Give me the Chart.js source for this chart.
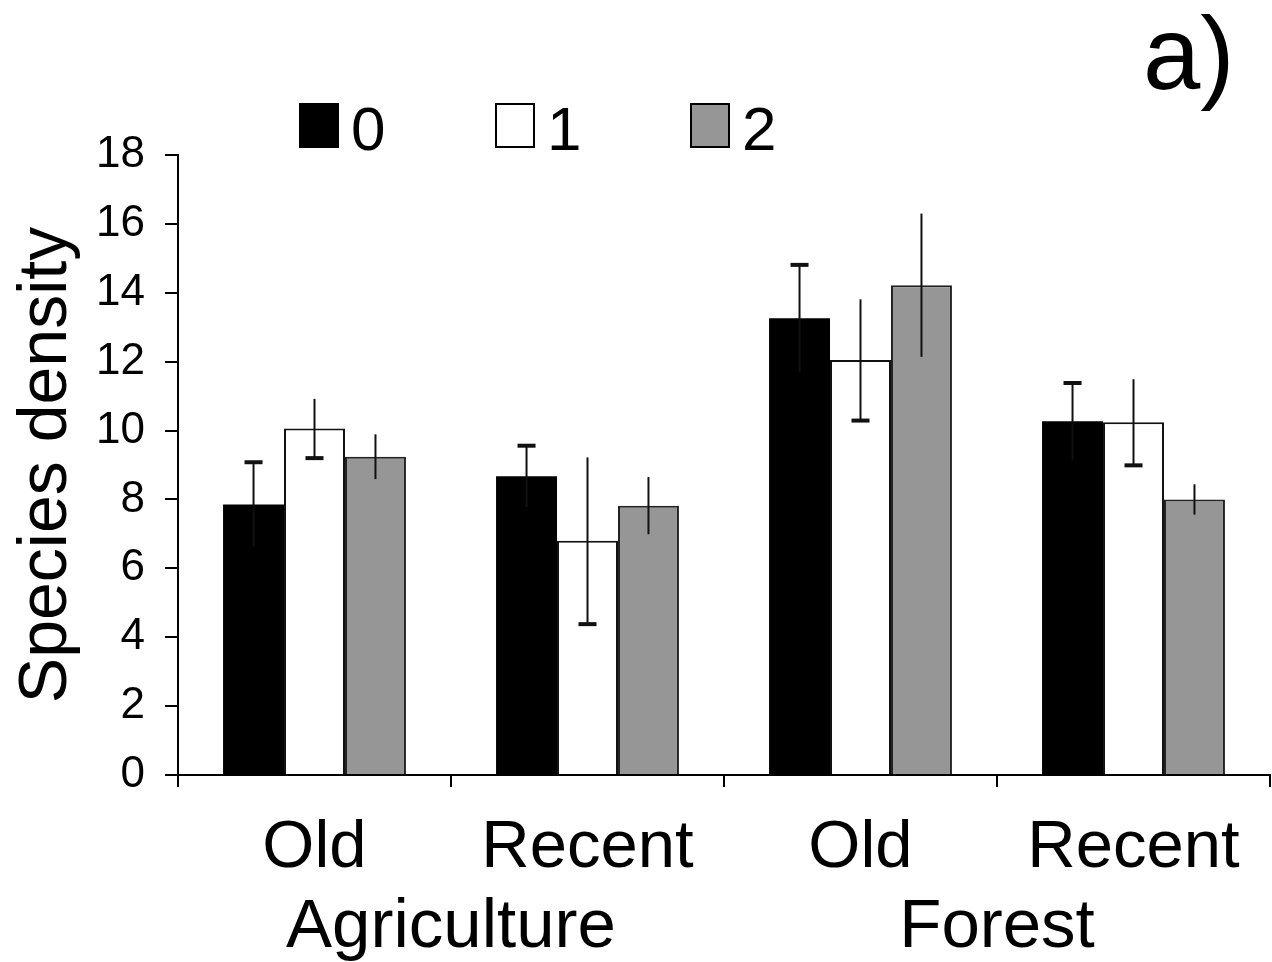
<!DOCTYPE html>
<html>
<head>
<meta charset="utf-8">
<script src="https://cdn.jsdelivr.net/npm/chart.js@4.4.0/dist/chart.umd.min.js"></script>
<style>
  body { margin: 0; background: #fff; }
  #wrap { width: 1272px; height: 962px; }
</style>
</head>
<body>
<div id="wrap"><canvas id="myChart"></canvas></div>
<script>
// data
var categories = ['Old', 'Recent', 'Old', 'Recent'];
var groups = ['Agriculture', 'Forest'];
var seriesNames = ['0', '1', '2'];
var means0 = [7.85, 8.67, 13.26, 10.27];
var means1 = [10.06, 6.8, 12.05, 10.24];
var means2 = [9.24, 7.82, 14.22, 8.0];
var errors0 = [1.23, 0.89, 1.55, 1.11];
var errors1 = [0.86, 2.42, 1.76, 1.25];
var errors2 = [0.65, 0.83, 2.08, 0.44];
var yMin = 0, yMax = 18, yStep = 2;
var panelLabel = 'a)';

var FONT = "'Liberation Sans', Arial, sans-serif";
var NARROW = "'Liberation Sans Narrow', 'Arial Narrow', 'Liberation Sans', sans-serif";

// error bars drawn on top of the bars
var errorBarPlugin = {
    id: 'errorBars',
    afterDatasetsDraw: function (chart) {
        var ctx = chart.ctx;
        var yScale = chart.scales.y;
        chart.data.datasets.forEach(function (ds, i) {
            var meta = chart.getDatasetMeta(i);
            meta.data.forEach(function (bar, j) {
                var m = ds.data[j], e = ds.errors[j];
                var top = yScale.getPixelForValue(m + e);
                var bot = yScale.getPixelForValue(m - e);
                ctx.save();
                ctx.strokeStyle = '#111';
                ctx.lineWidth = 2;
                ctx.beginPath();
                ctx.moveTo(bar.x, top);
                ctx.lineTo(bar.x, bot);
                ctx.stroke();
                ctx.lineWidth = 4;
                if (ds.capTop) {
                    ctx.beginPath();
                    ctx.moveTo(bar.x - 9, top);
                    ctx.lineTo(bar.x + 9, top);
                    ctx.stroke();
                }
                if (ds.capBottom) {
                    ctx.beginPath();
                    ctx.moveTo(bar.x - 9, bot);
                    ctx.lineTo(bar.x + 9, bot);
                    ctx.stroke();
                }
                ctx.restore();
            });
        });
    }
};

// group labels, legend and panel letter
var extrasPlugin = {
    id: 'extras',
    afterDraw: function (chart) {
        var ctx = chart.ctx;
        var x = chart.scales.x;
        ctx.save();
        ctx.fillStyle = '#000';
        ctx.textAlign = 'center';
        ctx.textBaseline = 'alphabetic';
        ctx.font = '69px ' + FONT;
        groups.forEach(function (g, k) {
            var cx = (x.getPixelForValue(k * 2) + x.getPixelForValue(k * 2 + 1)) / 2;
            ctx.fillText(g, cx, 947);
        });

        // legend
        var legendX = [300, 496, 691];
        chart.data.datasets.forEach(function (ds, i) {
            var bx = legendX[i];
            ctx.fillStyle = ds.backgroundColor;
            ctx.fillRect(bx, 104, 38, 43);
            ctx.strokeStyle = '#000';
            ctx.lineWidth = 2;
            ctx.strokeRect(bx, 104, 38, 43);
            ctx.fillStyle = '#000';
            ctx.textAlign = 'left';
            ctx.font = '62px ' + FONT;
            ctx.fillText(ds.label, bx + 51, 150);
        });

        ctx.font = '103px ' + FONT;
        ctx.textAlign = 'left';
        ctx.fillText(panelLabel, 1143, 89);
        ctx.restore();
    }
};

var ctx = document.getElementById('myChart').getContext('2d');
var myChart = new Chart(ctx, {
    type: 'bar',
    data: {
        labels: categories,
        datasets: [{
            label: seriesNames[0],
            data: means0,
            errors: errors0,
            capTop: true,
            capBottom: false,
            backgroundColor: '#000000',
            borderColor: '#000000',
            borderWidth: 0
        }, {
            label: seriesNames[1],
            data: means1,
            errors: errors1,
            capTop: false,
            capBottom: true,
            backgroundColor: '#ffffff',
            borderColor: '#111111',
            borderWidth: 2
        }, {
            label: seriesNames[2],
            data: means2,
            errors: errors2,
            capTop: false,
            capBottom: false,
            backgroundColor: '#969696',
            borderColor: '#222222',
            borderWidth: 2
        }]
    },
    options: {
        responsive: true,
        maintainAspectRatio: false,
        animation: false,
        devicePixelRatio: 1,
        layout: { padding: { left: 0, top: 155, right: 2, bottom: 0 } },
        categoryPercentage: 0.67,
        barPercentage: 1.0,
        plugins: {
            legend: { display: false },
            tooltip: { enabled: false }
        },
        scales: {
            x: {
                afterFit: function (s) { s.height = 187; },
                grid: {
                    offset: true,
                    drawOnChartArea: false,
                    drawTicks: true,
                    tickLength: 12,
                    color: '#000',
                    lineWidth: 2
                },
                border: { color: '#000', width: 2 },
                ticks: {
                    color: '#000',
                    font: { family: FONT, size: 67 },
                    padding: 21,
                    maxRotation: 0
                }
            },
            y: {
                min: yMin,
                max: yMax,
                afterFit: function (s) { s.width = 178; },
                grid: {
                    drawOnChartArea: false,
                    drawTicks: true,
                    tickLength: 13,
                    color: '#000',
                    lineWidth: 2
                },
                border: { color: '#000', width: 2 },
                ticks: {
                    stepSize: yStep,
                    color: '#000',
                    font: { family: NARROW, size: 44 },
                    padding: 20
                },
                title: {
                    display: true,
                    text: 'Species density',
                    color: '#000',
                    font: { family: FONT, size: 68 },
                    padding: { top: 6, bottom: 0 }
                }
            }
        }
    },
    plugins: [errorBarPlugin, extrasPlugin]
});
</script>
</body>
</html>
